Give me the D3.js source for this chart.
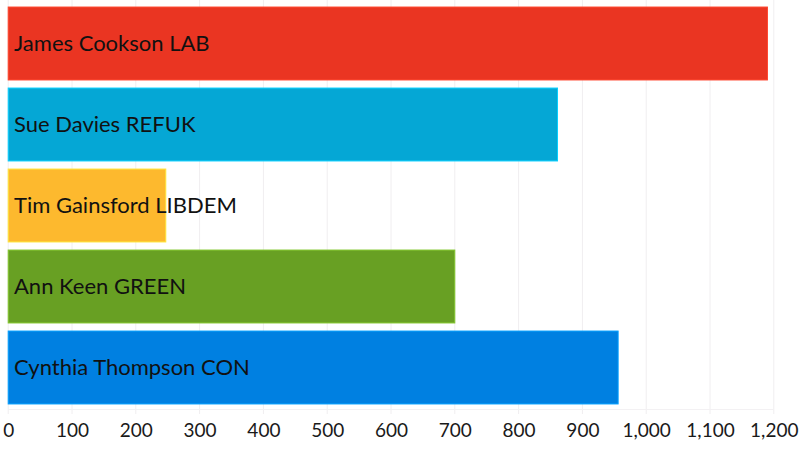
<!DOCTYPE html>
<html lang="en">
<head>
<meta charset="UTF-8">
<title>Votes by candidate</title>
<style>
  body { margin: 0; background: #fff; }
  svg { display: block; font-family: Lato, "Open Sans", sans-serif; }
</style>
</head>
<body>
<div id="chart-container"></div>
<script src="https://d3js.org/d3.v7.min.js"></script>
<script>
const candidates = ["James Cookson LAB", "Sue Davies REFUK", "Tim Gainsford LIBDEM", "Ann Keen GREEN", "Cynthia Thompson CON"];
const votes = [1190, 861, 247, 700, 956];
const barColors = ["#ea3522", "#05a7d5", "#fdb92e", "#68a023", "#0080e1"];
const xTicks = [0, 100, 200, 300, 400, 500, 600, 700, 800, 900, 1000, 1100, 1200];

const W = 800, H = 450;
const plot = { left: 8.2, right: 773.8, top: 3, bottom: 408 };

const data = candidates.map((name, i) => ({ name, value: votes[i], color: barColors[i] }));

const x = d3.scaleLinear().domain([0, 1200]).range([plot.left, plot.right]);
const y = d3.scaleBand().domain(candidates).range([plot.top, plot.bottom])
  .paddingInner(0.1).paddingOuter(0.05);

const svg = d3.select("#chart-container").append("svg")
  .attr("width", W).attr("height", H);

// grid
svg.append("g").selectAll("line")
  .data(xTicks)
  .join("line")
  .attr("x1", d => x(d)).attr("x2", d => x(d))
  .attr("y1", 0).attr("y2", 414)
  .attr("stroke", "#f0eef0")
  .attr("stroke-width", 1);

svg.append("line")
  .attr("x1", plot.left).attr("x2", plot.right)
  .attr("y1", 409.5).attr("y2", 409.5)
  .attr("stroke", "#f3f1f3");

// bars
svg.append("g").selectAll("rect")
  .data(data)
  .join("rect")
  .attr("x", x(0))
  .attr("y", d => y(d.name))
  .attr("width", d => x(d.value) - x(0))
  .attr("height", y.bandwidth())
  .attr("fill", d => d.color)
  .attr("stroke", d => d3.color(d.color).brighter(0.6))
  .attr("stroke-width", 1);

// labels
svg.append("g").selectAll("text")
  .data(data)
  .join("text")
  .attr("x", 14)
  .attr("y", d => y(d.name) + y.bandwidth() / 2)
  .attr("dy", "0.35em")
  .style("font-size", "22px")
  .style("fill", "#111")
  .text(d => d.name);

// x axis
svg.append("g")
  .attr("transform", `translate(0,${plot.bottom})`)
  .style("font-family", "Lato, sans-serif")
  .style("font-size", "19px")
  .call(d3.axisBottom(x).tickValues(xTicks).tickFormat(d3.format(",")).tickSize(0).tickPadding(16))
  .call(g => g.select(".domain").remove())
  .selectAll(".tick text")
  .attr("fill", "#1a1a1a");
</script>
</body>
</html>
